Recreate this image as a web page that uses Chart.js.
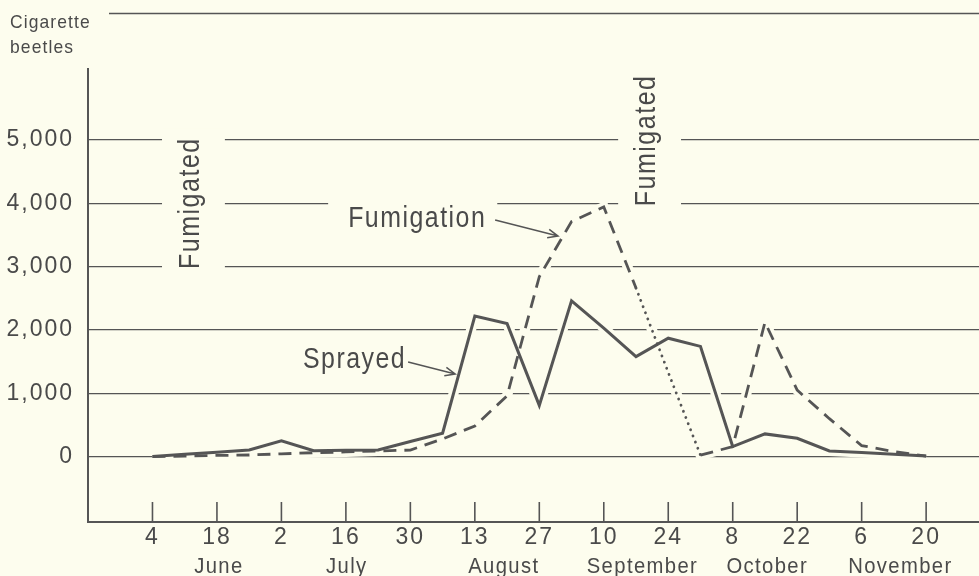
<!DOCTYPE html>
<html>
<head>
<meta charset="utf-8">
<script src="https://cdn.jsdelivr.net/npm/chart.js@4/dist/chart.umd.min.js"></script>
<style>
  html, body { margin: 0; padding: 0; background: #fdfdee; }
  canvas { display: block; }
</style>
</head>
<body>
<canvas id="chart" width="979" height="576"></canvas>
<script>
// Weekly counts of cigarette beetles, week 0 = June 4 … week 24 = November 20
const weeks = [0, 1, 2, 3, 4, 5, 6, 7, 8, 9, 10, 11, 12, 13, 14, 15, 16, 17, 18, 19, 20, 21, 22, 23, 24];
const sprayed = [5, 40, 70, 105, 250, 95, 100, 105, 240, 370, 2220, 2100, 810, 2460, 2030, 1580, 1870, 1740, 160, 360, 290, 90, 65, 40, 10];
const fumigation = [0, 10, 20, 27, 45, 63, 75, 90, 105, 280, 485, 960, 2840, 3710, 3940, 2660, 1330, 25, 160, 2120, 1050, 600, 175, 80, 10];
// weeks over which the fumigation curve is shown dotted
const dottedFrom = 15;
const dottedTo = 17;

// x axis: day of month every second week, then month names
const dayTickWeeks = [0, 2, 4, 6, 8, 10, 12, 14, 16, 18, 20, 22, 24];
const dayTickLabels = ['4', '18', '2', '16', '30', '13', '27', '10', '24', '8', '22', '6', '20'];
const monthLabels = ['June', 'July', 'August', 'September', 'October', 'November'];
const monthCenters = [2.06, 6.03, 10.9, 15.2, 19.07, 23.2];

// y axis
const yTickValues = [0, 1000, 2000, 3000, 4000, 5000];
const yTickLabels = ['0', '1,000', '2,000', '3,000', '4,000', '5,000'];

const PAPER = '#fdfdee';
const INK = '#555555';
const TEXT = '#4a4a4a';
const FONT = "'Liberation Sans', Arial, sans-serif";

function setFont(ctx, size, spacing) {
  ctx.font = size + 'px ' + FONT;
  ctx.letterSpacing = spacing + 'px';
}

// hand-lettered notes are narrow: draw them squeezed horizontally
function squeezedText(ctx, text, x, y, sx) {
  ctx.save();
  ctx.translate(x, y);
  ctx.scale(sx, 1);
  ctx.fillText(text, 0, 0);
  ctx.restore();
}

// written notes inside the plot, anchored in data units (week, beetles)
const notes = [
  { text: 'Fumigated', week: 1.44, value: 4000, size: 29, sx: 0.86, rotate: true },
  { text: 'Fumigated', week: 15.59, value: 4990, size: 29, sx: 0.86, rotate: true },
  { text: 'Fumigation', week: 6.07, value: 3628, size: 30, sx: 0.83, rotate: false, gapL: 20, gapR: 11 },
  { text: 'Sprayed', week: 4.67, value: 1395, size: 30, sx: 0.83, rotate: false }
];
const arrows = [
  { from: [10.63, 3733], to: [12.58, 3481] },
  { from: [7.93, 1494], to: [9.39, 1305] }
];

const paper = {
  id: 'paper',
  beforeDraw(chart) {
    const { ctx, width, height } = chart;
    ctx.save();
    ctx.fillStyle = PAPER;
    ctx.fillRect(0, 0, width, height);
    ctx.restore();
    ctx.letterSpacing = '2px';
  }
};

function noteBox(ctx, n, x, y) {
  setFont(ctx, n.size, 1.8);
  const w = ctx.measureText(n.text).width * n.sx;
  const cap = n.size * 0.72;
  if (n.rotate) {
    return { x0: x - cap - 16, x1: x + 26, y0: y - w / 2 - 9, y1: y + w / 2 + 9 };
  }
  return { x0: x - (n.gapL || 0), x1: x + w + (n.gapR || 0), y0: y - cap - 8, y1: y + 10 };
}

const decorations = {
  id: 'decorations',
  beforeDatasetsDraw(chart) {
    const { ctx, chartArea, scales } = chart;
    const xs = scales.x, ys = scales.y;
    ctx.save();
    // clear the rules behind the written notes
    ctx.fillStyle = PAPER;
    notes.forEach(n => {
      if (!n.rotate && !n.gapL) return;
      const b = noteBox(ctx, n, xs.getPixelForValue(n.week), ys.getPixelForValue(n.value));
      ctx.fillRect(b.x0, b.y0, b.x1 - b.x0, b.y1 - b.y0);
    });
    ctx.strokeStyle = INK;
    // heading rule at the top
    ctx.lineWidth = 1.6;
    ctx.beginPath();
    ctx.moveTo(chartArea.left + 21, chartArea.top + 0.5);
    ctx.lineTo(chartArea.right, chartArea.top + 0.5);
    ctx.stroke();
    // vertical axis
    ctx.lineWidth = 2;
    ctx.beginPath();
    ctx.moveTo(chartArea.left, chartArea.top + 55);
    ctx.lineTo(chartArea.left, chartArea.bottom);
    ctx.stroke();
    // tick marks standing up from the time axis
    ctx.lineWidth = 1.6;
    dayTickWeeks.forEach(w => {
      const x = xs.getPixelForValue(w);
      ctx.beginPath();
      ctx.moveTo(x, chartArea.bottom);
      ctx.lineTo(x, chartArea.bottom - 20);
      ctx.stroke();
    });
    ctx.restore();
  },
  afterDatasetsDraw(chart) {
    const { ctx, scales } = chart;
    const xs = scales.x, ys = scales.y;
    ctx.save();
    ctx.fillStyle = TEXT;
    ctx.textBaseline = 'alphabetic';
    notes.forEach(n => {
      const x = xs.getPixelForValue(n.week), y = ys.getPixelForValue(n.value);
      setFont(ctx, n.size, 1.8);
      if (n.rotate) {
        const w = ctx.measureText(n.text).width * n.sx;
        ctx.save();
        ctx.translate(x, y);
        ctx.rotate(-Math.PI / 2);
        ctx.textAlign = 'left';
        squeezedText(ctx, n.text, -w / 2, 0, n.sx);
        ctx.restore();
      } else {
        ctx.textAlign = 'left';
        squeezedText(ctx, n.text, x, y, n.sx);
      }
    });
    // pointer arrows
    ctx.strokeStyle = INK;
    ctx.lineWidth = 1.5;
    arrows.forEach(a => {
      const x0 = xs.getPixelForValue(a.from[0]), y0 = ys.getPixelForValue(a.from[1]);
      const x1 = xs.getPixelForValue(a.to[0]), y1 = ys.getPixelForValue(a.to[1]);
      const ang = Math.atan2(y1 - y0, x1 - x0);
      ctx.beginPath();
      ctx.moveTo(x0, y0);
      ctx.lineTo(x1, y1);
      ctx.moveTo(x1 - 11 * Math.cos(ang - 0.4), y1 - 11 * Math.sin(ang - 0.4));
      ctx.lineTo(x1, y1);
      ctx.lineTo(x1 - 11 * Math.cos(ang + 0.4), y1 - 11 * Math.sin(ang + 0.4));
      ctx.stroke();
    });
    ctx.restore();
  },
  afterDraw(chart) {
    const { ctx, scales } = chart;
    const xs = scales.x;
    ctx.save();
    ctx.fillStyle = TEXT;
    // month names under the day numbers
    setFont(ctx, 22, 1.5);
    ctx.textAlign = 'left';
    ctx.textBaseline = 'alphabetic';
    monthLabels.forEach((m, i) => {
      const w = ctx.measureText(m).width * 0.92;
      squeezedText(ctx, m, xs.getPixelForValue(monthCenters[i]) - w / 2, 573, 0.92);
    });
    // axis heading
    setFont(ctx, 19, 1.2);
    squeezedText(ctx, 'Cigarette', 10, 28, 0.92);
    squeezedText(ctx, 'beetles', 10, 53, 0.92);
    ctx.restore();
  }
};

const asPoints = arr => arr.map((v, i) => ({ x: weeks[i], y: v }));
const inDotted = c => c.p0DataIndex >= dottedFrom && c.p0DataIndex < dottedTo;

new Chart(document.getElementById('chart'), {
  type: 'line',
  data: {
    datasets: [
      {
        label: 'Sprayed',
        data: asPoints(sprayed),
        borderColor: INK,
        borderWidth: 3,
        pointRadius: 0,
        tension: 0,
        order: 0
      },
      {
        label: 'Fumigation',
        data: asPoints(fumigation),
        borderColor: INK,
        borderWidth: 2.8,
        borderDash: [13, 8],
        pointRadius: 0,
        tension: 0,
        order: 1,
        segment: {
          borderDash: c => inDotted(c) ? [0.1, 6.5] : undefined,
          borderCapStyle: c => inDotted(c) ? 'round' : undefined
        }
      },
      // paper-coloured bands under the curves break the rules where they cross
      {
        label: 'sprayed-band',
        data: asPoints(sprayed),
        borderColor: PAPER,
        borderWidth: 10,
        pointRadius: 0,
        tension: 0,
        order: 5
      },
      {
        label: 'fumigation-band',
        data: asPoints(fumigation),
        borderColor: PAPER,
        borderWidth: 10,
        pointRadius: 0,
        tension: 0,
        order: 5
      }
    ]
  },
  options: {
    responsive: false,
    devicePixelRatio: 1,
    animation: false,
    layout: { padding: { top: 13, left: 0, right: 0, bottom: 0 } },
    plugins: {
      legend: { display: false },
      tooltip: { enabled: false }
    },
    scales: {
      x: {
        type: 'linear',
        min: -2,
        max: 25.64,
        afterBuildTicks: s => { s.ticks = dayTickWeeks.map(v => ({ value: v })); },
        afterFit: s => { s.height = 54; },
        grid: { display: false },
        border: { display: true, color: INK, width: 2 },
        ticks: {
          autoSkip: false,
          maxRotation: 0,
          padding: -6,
          color: TEXT,
          font: { family: FONT, size: 23 },
          callback: v => dayTickLabels[dayTickWeeks.indexOf(v)]
        }
      },
      y: {
        min: -1030,
        max: 7000,
        afterBuildTicks: s => { s.ticks = yTickValues.map(v => ({ value: v })); },
        afterFit: s => { s.width = 88; s.paddingTop = 0; s.paddingBottom = 0; },
        grid: { color: INK, lineWidth: 1.3, drawTicks: false },
        border: { display: false },
        ticks: {
          padding: 14,
          color: TEXT,
          font: { family: FONT, size: 23 },
          callback: v => yTickLabels[yTickValues.indexOf(v)]
        }
      }
    }
  },
  plugins: [paper, decorations]
});
</script>
</body>
</html>
